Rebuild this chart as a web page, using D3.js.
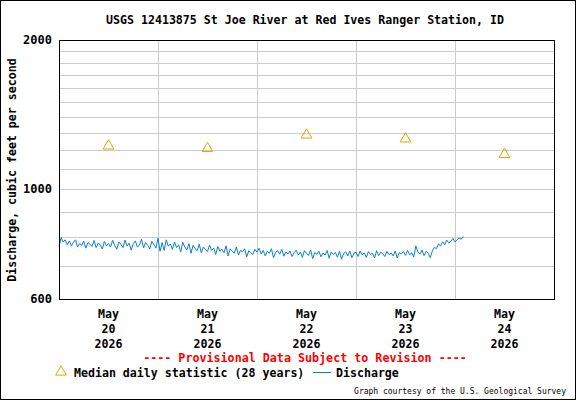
<!DOCTYPE html>
<html><head><meta charset="utf-8">
<script src="https://cdn.jsdelivr.net/npm/d3@7"></script>
<style>body{margin:0;background:#fff}text{font-family:"DejaVu Sans Mono",monospace;font-weight:bold}</style>
</head><body><svg id="c" width="576" height="400"></svg>
<script>
const title = "USGS 12413875 St Joe River at Red Ives Ranger Station, ID";
const dayLabels = ["May|20|2026","May|21|2026","May|22|2026","May|23|2026","May|24|2026"];
const yTicks = [600, 1000, 2000];
const medianDays = [0.5, 1.5, 2.5, 3.5, 4.5];
const medianValues = [1222, 1208, 1286, 1263, 1175];
// half-hourly discharge starting May 20 00:00
const discharge = [
765,798,782,790,772,786,768,781,790,764,777,770,785,760,780,774,766,788,762,778,772,757,784,768,
777,764,788,770,756,782,774,762,789,768,778,753,776,786,764,771,792,761,780,770,757,785,773,760,
796,749,780,752,790,767,775,756,782,762,772,747,781,764,754,776,742,770,758,751,774,744,764,755,
748,771,752,760,738,766,749,756,744,768,733,757,750,742,764,736,752,747,758,730,751,744,738,756,
746,760,740,752,733,749,742,758,727,745,751,739,756,732,747,740,750,731,744,753,736,746,728,751,
742,735,753,724,745,739,749,730,743,736,752,725,747,738,745,729,749,722,741,747,733,750,727,742,
746,731,750,736,744,728,748,738,742,726,751,734,746,740,731,749,737,743,733,750,726,745,740,748,
735,752,737,744,729,768,747,739,753,734,749,742,727,750,763,758,775,768,783,772,789,779,784,795,
782,789,797,792,803];
const W=576,H=400, m={l:59,r:554,t:40,b:299};
const svg=d3.select("#c");
svg.append("rect").attr("x",0.5).attr("y",0.5).attr("width",W-1).attr("height",H-1).attr("fill","#fff").attr("stroke","#000");
const x=d3.scaleLinear().domain([0,5]).range([m.l,m.r]);
const y=d3.scaleLog().domain([600,2000]).range([m.b,m.t]);
const g=svg.append("g");
d3.range(700,2000,100).forEach(v=>g.append("line").attr("x1",m.l).attr("x2",m.r).attr("y1",Math.round(y(v))+0.5).attr("y2",Math.round(y(v))+0.5).attr("stroke","#ccc"));
[1,2,3,4].forEach(d=>g.append("line").attr("x1",Math.round(x(d))+0.5).attr("x2",Math.round(x(d))+0.5).attr("y1",m.t).attr("y2",m.b).attr("stroke","#ccc"));
const line=d3.line().x((d,i)=>x(i/48)).y(d=>y(d));
g.append("path").datum(discharge).attr("d",line).attr("fill","none").attr("stroke","#0a7fd0").attr("stroke-width",1);
const tri=d3.symbol().type(d3.symbolTriangle).size(50);
medianDays.forEach((d,i)=>g.append("path").attr("d",tri).attr("transform",`translate(${x(d)},${y(medianValues[i])})`).attr("fill","none").attr("stroke","#f0a000"));
g.append("rect").attr("x",m.l+0.5).attr("y",m.t+0.5).attr("width",m.r-m.l).attr("height",m.b-m.t).attr("fill","none").attr("stroke","#000");
yTicks.forEach(v=>svg.append("text").attr("x",m.l-7).attr("y",y(v)+4).attr("text-anchor","end").attr("font-size",12).text(v));
dayLabels.forEach((l,i)=>{const t=svg.append("text").attr("text-anchor","middle").attr("font-size",11.6);
 l.split("|").forEach((s,j)=>t.append("tspan").attr("x",x(i+0.5)).attr("y",318+j*15).text(s));});
svg.append("text").attr("x",W/2+17).attr("y",24).attr("text-anchor","middle").attr("font-size",11.6).text(title);
svg.append("text").attr("transform","translate(16,170) rotate(-90)").attr("text-anchor","middle").attr("font-size",11.6).text("Discharge, cubic feet per second");
svg.append("text").attr("x",305).attr("y",362).attr("text-anchor","middle").attr("font-size",11.7).attr("fill","#f00").text("---- Provisional Data Subject to Revision ----");
svg.append("path").attr("d",tri).attr("transform","translate(61,372)").attr("fill","none").attr("stroke","#f0a000");
svg.append("text").attr("x",74).attr("y",377).attr("font-size",11.6).text("Median daily statistic (28 years)");
svg.append("line").attr("x1",313).attr("x2",331).attr("y1",372.5).attr("y2",372.5).attr("stroke","#0a7fd0");
svg.append("text").attr("x",336).attr("y",377).attr("font-size",11.6).text("Discharge");
svg.append("text").attr("x",566).attr("y",394).attr("text-anchor","end").attr("font-size",8).style("font-weight","normal").text("Graph courtesy of the U.S. Geological Survey");
</script></body></html>
